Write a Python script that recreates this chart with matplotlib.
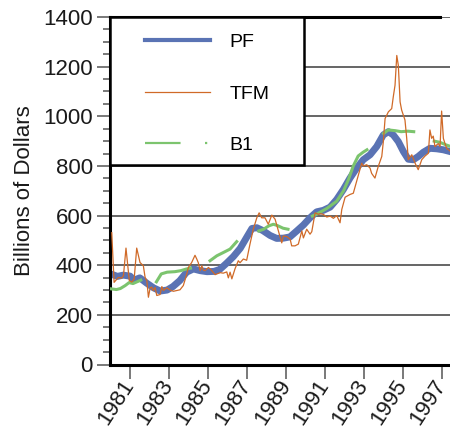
import numpy as np
import matplotlib.pyplot as plt
import matplotlib.transforms as mtransforms
from matplotlib.lines import Line2D
from matplotlib.patches import Rectangle
from matplotlib.ticker import MultipleLocator

plt.rcParams['font.family'] = ['Liberation Sans', 'DejaVu Sans']

# PF (smooth series), billions of dollars
pf_years = [1980.0, 1980.35, 1980.65, 1981.0, 1981.2, 1981.5, 1981.85, 1982.2, 1982.55,
            1982.9, 1983.2, 1983.55, 1983.9, 1984.25, 1984.6, 1984.95, 1985.3, 1985.6,
            1985.95, 1986.3, 1986.65, 1987.0, 1987.25, 1987.5, 1987.8, 1988.18, 1988.52,
            1988.86, 1989.2, 1989.55, 1989.89, 1990.23, 1990.57, 1990.91, 1991.26, 1991.6,
            1991.94, 1992.28, 1992.63, 1992.96, 1993.31, 1993.65, 1993.99, 1994.25, 1994.5,
            1994.76, 1995.02, 1995.27, 1995.53, 1995.78, 1996.04, 1996.38, 1996.73, 1997.07,
            1997.41]
pf_values = [365, 355, 360, 356, 340, 349, 328, 309, 296,
             300, 314, 338, 372, 385, 378, 374, 375, 383,
             408, 435, 468, 515, 548, 551, 540, 520, 508,
             509, 514, 538, 562, 591, 615, 621, 634, 665,
             705, 751, 792, 825, 845, 878, 925, 938, 925,
             898, 858, 827, 825, 838, 855, 871, 869, 865,
             858]

# TFM (noisy series)
tfm_years = [1980.06, 1980.18, 1980.4, 1980.57, 1980.66, 1980.79, 1980.96, 1981.09, 1981.21,
             1981.34, 1981.51, 1981.68, 1981.77, 1981.86, 1981.94, 1982.03, 1982.11, 1982.19,
             1982.28, 1982.37, 1982.54, 1982.63, 1982.71, 1982.88, 1983.05, 1983.22, 1983.56,
             1983.73, 1983.87, 1983.99, 1984.16, 1984.33, 1984.42, 1984.5, 1984.59, 1984.68,
             1984.76, 1984.85, 1985.02, 1985.19, 1985.36, 1985.62, 1985.78, 1985.96, 1986.04,
             1986.13, 1986.22, 1986.38, 1986.55, 1986.64, 1986.81, 1986.98, 1987.15, 1987.32,
             1987.5, 1987.62, 1987.75, 1987.92, 1988.09, 1988.27, 1988.44, 1988.61, 1988.78,
             1988.86, 1989.04, 1989.21, 1989.29, 1989.46, 1989.63, 1989.81, 1989.89, 1990.06,
             1990.23, 1990.32, 1990.49, 1990.66, 1990.74, 1990.91, 1991.09, 1991.26, 1991.43,
             1991.6, 1991.77, 1991.86, 1992.03, 1992.28, 1992.45, 1992.63, 1992.79, 1992.88,
             1992.96, 1993.14, 1993.31, 1993.39, 1993.56, 1993.73, 1993.91, 1993.99, 1994.08,
             1994.25, 1994.42, 1994.5, 1994.59, 1994.68, 1994.76, 1994.85, 1994.93, 1995.1,
             1995.19, 1995.27, 1995.45, 1995.62, 1995.78, 1995.96, 1996.13, 1996.3, 1996.38,
             1996.47, 1996.55, 1996.64, 1996.73, 1996.81, 1996.9, 1996.98, 1997.07, 1997.15,
             1997.24, 1997.41]
tfm_values = [531, 331, 351, 348, 358, 469, 338, 332, 345,
              469, 411, 398, 351, 338, 271, 309, 312, 298,
              310, 278, 282, 314, 298, 309, 300, 295, 301,
              318, 354, 391, 411, 440, 425, 410, 378, 398,
              380, 378, 391, 378, 362, 370, 368, 373, 349,
              372, 345, 385, 418, 410, 425, 420, 485, 545,
              591, 611, 591, 591, 565, 602, 585, 538, 490,
              518, 515, 505, 478, 478, 485, 538, 510, 545,
              525, 535, 611, 605, 608, 605, 594, 598, 589,
              600, 571, 625, 674, 685, 690, 741, 785, 811,
              800, 805, 791, 770, 751, 798, 838, 898, 991,
              1018, 1031, 1078, 1125, 1245, 1205, 1058, 1025, 985,
              911, 825, 845, 811, 785, 825, 840, 851, 945,
              911, 920, 878, 885, 890, 878, 1021, 911, 891,
              871, 860]

# B1 (broken series, nan = gap)
b1_years = [1980.0, 1980.3, 1980.5, 1980.75, 1980.95, 1981.15, 1981.35, 1981.55, np.nan,
            1982.35, 1982.6, 1982.9, 1983.3, 1983.6, 1983.9, 1984.1, np.nan,
            1985.1, 1985.45, 1985.78, 1986.13, 1986.47, np.nan,
            1987.6, 1987.85, 1988.1, 1988.35, 1988.55, 1988.85, 1989.1, np.nan,
            1990.35, 1990.6, 1991.1, 1991.6, 1991.95, 1992.2, 1992.45, 1992.7, 1992.95, 1993.15, np.nan,
            1994.0, 1994.25, 1994.6, 1994.9, 1995.25, 1995.55, np.nan,
            1996.6, 1996.9, 1997.2, 1997.45]
b1_values = [305, 302, 306, 318, 330, 326, 333, 340, np.nan,
             333, 365, 372, 374, 378, 385, 388, np.nan,
             418, 438, 451, 465, 495, np.nan,
             538, 545, 558, 565, 560, 549, 545, np.nan,
             598, 607, 629, 658, 700, 745, 800, 840, 855, 865, np.nan,
             931, 945, 942, 938, 940, 938, np.nan,
             900, 895, 885, 878]

year_ticks = list(range(1981, 1998, 2))
value_ticks = list(range(0, 1401, 200))

blue = '#5a73b4'
orange = '#d06a28'
green = '#7cc46e'

fig = plt.figure(figsize=(4.5, 4.32), dpi=100)
ax = fig.add_axes([110 / 450, 1 - 364.5 / 432, 340 / 450, 347.5 / 432])

ax.plot(pf_years, pf_values, color=blue, lw=5, solid_joinstyle='round', zorder=2)
ax.plot(b1_years, b1_values, color=green, lw=2.2, zorder=3)
ax.plot(tfm_years, tfm_values, color=orange, lw=0.9, zorder=4)

ax.set_xlim(1979.97, 1997.41)
ax.set_ylim(0, 1400)

# grid
ax.set_axisbelow(True)
ax.grid(axis='y', which='major', color='#3c3c3c', lw=1.1)
ax.grid(axis='x', visible=False)

# ticks
ax.set_yticks(value_ticks)
ax.yaxis.set_minor_locator(MultipleLocator(50))
ax.set_xticks(year_ticks)
ax.set_xticklabels([str(y) for y in year_ticks], rotation=57, ha='right', va='center',
                   rotation_mode='anchor')
# nudge rotated year labels so they end just right of the tick
shift = mtransforms.ScaledTranslation(20 / 100, -7 / 100, fig.dpi_scale_trans)
for lbl in ax.get_xticklabels():
    lbl.set_transform(lbl.get_transform() + shift)
ax.tick_params(axis='y', which='major', direction='out', length=9.5, width=1.1,
               color='#555555', labelsize=16, pad=3, labelcolor='#1a1a1a')
ax.tick_params(axis='y', which='minor', direction='out', length=5, width=1.1, color='#555555')
ax.tick_params(axis='x', which='major', direction='out', length=10, width=1.1,
               color='#555555', labelsize=16, pad=2, labelcolor='#1a1a1a')

ax.set_ylabel('Billions of Dollars', fontsize=16, color='#1a1a1a', labelpad=6)

# spines
for s in ['left', 'bottom', 'top']:
    ax.spines[s].set_linewidth(2.2)
    ax.spines[s].set_color('black')
ax.spines['right'].set_visible(False)
ax.spines['top'].set_bounds(1979.97, 1996.9)

# legend box
box = Rectangle((0, 0.574), 0.5706, 0.426, transform=ax.transAxes, facecolor='white',
                edgecolor='black', lw=1.8, zorder=5, clip_on=False)
ax.add_patch(box)
handles = [Line2D([], [], color=blue, lw=3),
           Line2D([], [], color=orange, lw=0.9),
           Line2D([], [], color=green, lw=1.6, dashes=(16, 11, 1, 10))]
leg = ax.legend(handles, ['PF', 'TFM', 'B1'], loc='center', bbox_to_anchor=(0.285, 0.779),
                frameon=False, fontsize=14, handlelength=3.35, handletextpad=1.0,
                labelspacing=1.75)
leg.set_zorder(6)

fig.savefig('out.png', dpi=100)
